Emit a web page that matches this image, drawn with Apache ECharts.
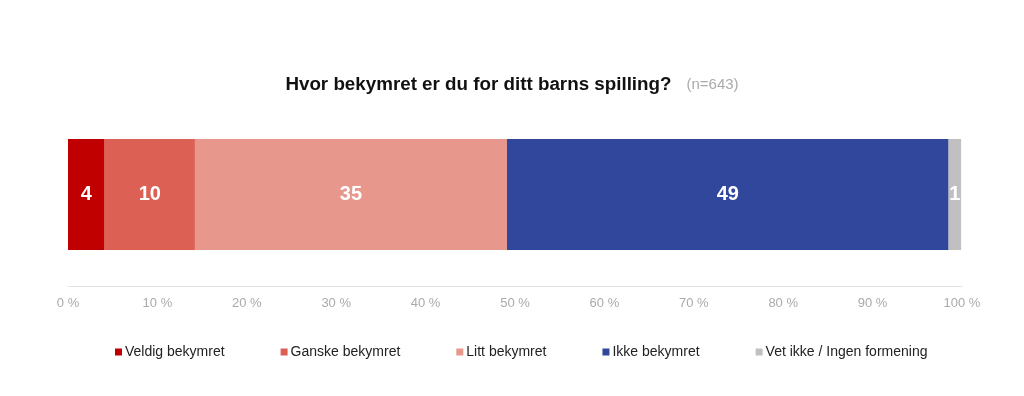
<!DOCTYPE html>
<html><head><meta charset="utf-8">
<script src="https://cdn.jsdelivr.net/npm/echarts@6/dist/echarts.min.js"></script>
<style>html,body{margin:0;padding:0;background:#fff}#c{width:1024px;height:396px}</style>
</head><body><div id="c"></div>
<script>
const categories = ['Alle'];
const seriesNames = ['Veldig bekymret', 'Ganske bekymret', 'Litt bekymret', 'Ikke bekymret', 'Vet ikke / Ingen formening'];
const seriesValues = [4.1, 10.1, 34.9, 49.4, 1.4];
const seriesColors = ['#C00000', '#DC6054', '#E7978C', '#30479B', '#C0C0C0'];
const xTicks = [0, 10, 20, 30, 40, 50, 60, 70, 80, 90, 100];

const chart = echarts.init(document.getElementById('c'));
const font = '"Liberation Sans", Arial, sans-serif';
chart.setOption({
  animation: false,
  textStyle: { fontFamily: font },
  title: {
    left: 'center', top: 70,
    text: '{a|Hvor bekymret er du for ditt barns spilling?}   {b|(n=643)}',
    textStyle: {
      rich: {
        a: { fontFamily: font, fontWeight: 'bold', fontSize: 18.8, color: '#111' },
        b: { fontFamily: font, fontWeight: 'normal', fontSize: 15, color: '#aaa' }
      }
    }
  },
  legend: {
    left: 110, top: 340,
    icon: 'rect', itemWidth: 7, itemHeight: 7, itemGap: 56,
    textStyle: { fontFamily: font, fontSize: 14, color: '#222', padding: [0, 0, 0, -2] },
    data: seriesNames
  },
  grid: { left: 68, right: 62, top: 103, bottom: 110, containLabel: false },
  xAxis: {
    type: 'value', min: 0, max: 100, interval: 10,
    axisLine: { show: true, onZero: false, lineStyle: { color: '#e3e3e3' } },
    splitLine: { show: false },
    axisTick: { show: false },
    axisLabel: { color: '#aaa', fontSize: 13, fontFamily: font, margin: 11,
      formatter: v => xTicks.includes(v) ? v + ' %' : '' }
  },
  yAxis: {
    type: 'category', data: categories, inverse: true,
    axisLine: { show: false },
    axisTick: { show: false }, axisLabel: { show: false }
  },
  series: seriesNames.map((n, i) => ({
    name: n, type: 'bar', stack: 'total', barWidth: 111,
    itemStyle: { color: seriesColors[i] },
    label: { show: true, position: 'inside', color: '#fff', fontWeight: 'bold', fontSize: 20, fontFamily: font,
      formatter: p => Math.round(p.value) },
    data: [seriesValues[i]]
  }))
});
</script></body></html>
